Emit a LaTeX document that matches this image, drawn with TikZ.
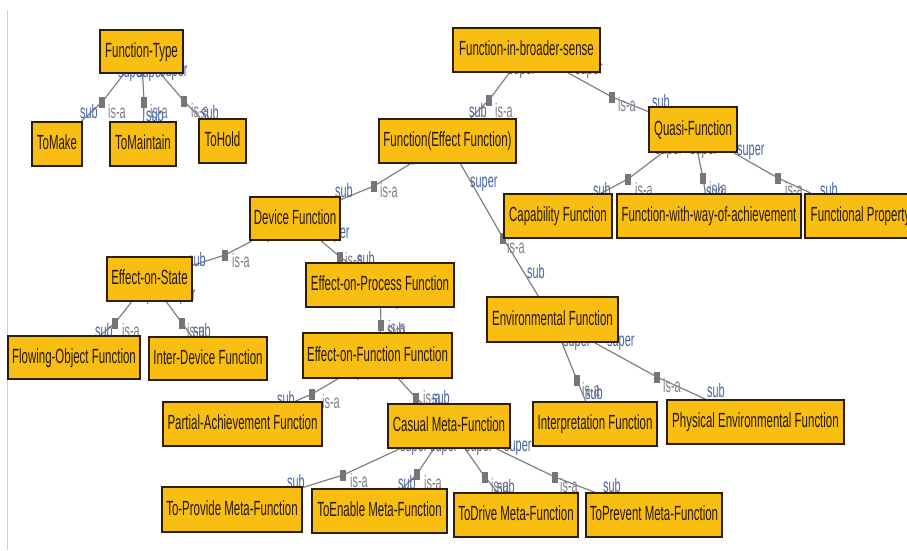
\documentclass[tikz,border=0pt]{standalone}
\usepackage{fontspec}
\setmainfont[FakeStretch=0.56]{Liberation Sans}
\definecolor{boxfill}{RGB}{248,190,18}
\definecolor{boxborder}{RGB}{45,30,12}
\definecolor{boxtext}{RGB}{40,25,5}
\definecolor{edgecol}{RGB}{128,128,128}
\definecolor{sqcol}{RGB}{118,118,118}
\definecolor{subcol}{RGB}{70,100,165}
\definecolor{isacol}{RGB}{125,125,140}
\definecolor{framecol}{RGB}{205,205,205}
\pgfdeclarelayer{edges}
\pgfdeclarelayer{labels}
\pgfsetlayers{edges,labels,main}
\tikzset{
  box/.style={draw=boxborder, line width=1.8pt, fill=boxfill, inner sep=0pt,
    text=boxtext, font=\fontsize{20.5}{23}\selectfont, text height=15pt, text depth=4pt},
  edge/.style={draw=edgecol, line width=1.2pt},
  sqr/.style={fill=sqcol, draw=none, minimum width=6pt, minimum height=11pt, inner sep=0pt},
  lbl/.style={anchor=base west, inner sep=0pt, font=\fontsize{19.5}{21}\selectfont},
  sublbl/.style={lbl, text=subcol},
  isalbl/.style={lbl, text=isacol},
  framestyle/.style={draw=framecol, line width=1pt}
}
\newcommand\bx[6]{\node[box, minimum width=#4, minimum height=#5] (#1) at (#2,#3) {#6};}
\newcommand\isaedge[4]{%
  \begin{pgfonlayer}{edges}
  \coordinate (#2) at #3;
  \draw[edge] (#1) -- (#2) -- (#4);
  \end{pgfonlayer}
  \begin{pgfonlayer}{labels}
  \node[sqr] at (#2) {};
  \end{pgfonlayer}}
\newcommand\sublab[2]{\begin{pgfonlayer}{labels}\node[sublbl] at (#1) {#2};\end{pgfonlayer}}
\newcommand\isalab[1]{\begin{pgfonlayer}{labels}\node[isalbl] at (#1) {is-a};\end{pgfonlayer}}
\begin{document}
\begin{tikzpicture}[x=1pt, y=-1pt]
\useasboundingbox (0,0) rectangle (907,550);
\begin{pgfonlayer}{edges}
\fill[white] (0,0) rectangle (907,550);
\draw[framestyle] (7,10) -- (7,550);
\end{pgfonlayer}
% boxes
\bx{FT}{141.5}{51.5}{83}{43}{Function-Type}
\bx{TM}{57}{144}{50}{44}{ToMake}
\bx{TMa}{143}{144}{66}{44}{ToMaintain}
\bx{TH}{222.5}{141}{47}{44}{ToHold}
\bx{FB}{526.5}{50}{147}{44}{Function-in-broader-sense}
\bx{FE}{447.5}{141}{137}{44}{Function(Effect Function)}
\bx{QF}{693}{129.5}{88}{45}{Quasi-Function}
\bx{CF}{558}{216}{108}{44}{Capability Function}
\bx{FW}{709}{216}{184}{44}{Function-with-way-of-achievement}
\bx{FP}{860.5}{216}{111}{44}{Functional Property}
\bx{DF}{295}{218.5}{90}{43}{Device Function}
\bx{ES}{149.5}{279}{85}{44}{Effect-on-State}
\bx{FO}{74}{357.5}{132}{43}{Flowing-Object Function}
\bx{ID}{208}{358.5}{118}{43}{Inter-Device Function}
\bx{EP}{380}{285}{148}{44}{Effect-on-Process Function}
\bx{EF}{377.5}{355.5}{149}{45}{Effect-on-Function Function}
\bx{EnvF}{552.5}{319.5}{131}{45}{Environmental Function}
\bx{IF}{595}{424}{124}{44}{Interpretation Function}
\bx{PE}{755.5}{422}{177}{44}{Physical Environmental Function}
\bx{PA}{242.5}{424}{159}{44}{Partial-Achievement Function}
\bx{CM}{449}{426}{122}{44}{Casual Meta-Function}
\bx{TP}{232}{509.5}{140}{45}{To-Provide Meta-Function}
\bx{TE}{379.5}{511}{135}{44}{ToEnable Meta-Function}
\bx{TD}{516}{515}{124}{44}{ToDrive Meta-Function}
\bx{TPr}{654}{515}{136}{44}{ToPrevent Meta-Function}
% connectors
\isaedge{FT}{s1}{(102,102)}{TM}
\isaedge{FT}{s2}{(144,102)}{TMa}
\isaedge{FT}{s3}{(184,101)}{TH}
\isaedge{FB}{s4}{(489,100)}{FE}
\isaedge{FB}{s5}{(612,97)}{QF}
\isaedge{QF}{s6}{(628,179)}{CF}
\isaedge{QF}{s7}{(703,178)}{FW}
\isaedge{QF}{s8}{(778,178)}{FP}
\isaedge{FE}{s9}{(374,186)}{DF}
\isaedge{FE}{s10}{(503,238)}{EnvF}
\isaedge{DF}{s11}{(225,255)}{ES}
\isaedge{DF}{s12}{(340,257)}{EP}
\isaedge{ES}{s13}{(115,323)}{FO}
\isaedge{ES}{s14}{(182,323)}{ID}
\isaedge{EP}{s15}{(381,325)}{EF}
\isaedge{EF}{s16}{(312,394)}{PA}
\isaedge{EF}{s17}{(416,398)}{CM}
\isaedge{CM}{s18}{(343,475)}{TP}
\isaedge{CM}{s19}{(417,474)}{TE}
\isaedge{CM}{s20}{(485,477)}{TD}
\isaedge{CM}{s21}{(555,477)}{TPr}
\isaedge{EnvF}{s22}{(577,380)}{IF}
\isaedge{EnvF}{s23}{(657,377)}{PE}
% labels
\sublab{80,118}{sub}\isalab{108,118}\sublab{118,77}{super}
\isalab{150,118}\sublab{146,121}{sub}\sublab{137,77}{super}
\isalab{191,117}\sublab{201,119}{sub}\sublab{160,76}{super}
\sublab{469,117}{sub}\isalab{495,117}\sublab{508,74}{super}
\isalab{618,111}\sublab{652,108}{sub}\sublab{575,74}{super}
\sublab{593,196}{sub}\isalab{635,196}\sublab{655,154}{super}
\sublab{706,197}{sub}\isalab{709,195}\sublab{690,154}{super}
\isalab{785,196}\sublab{820,196}{sub}\sublab{737,155}{super}
\sublab{335,197}{sub}\isalab{380,197}\sublab{400,161}{super}
\sublab{470,187}{super}\isalab{507,253}\sublab{527,278}{sub}
\sublab{188,266}{sub}\isalab{232,267}\sublab{255,238}{super}
\isalab{345,266}\sublab{357,265}{sub}\sublab{322,238}{super}
\sublab{95,337}{sub}\isalab{122,337}\sublab{135,300}{super}
\isalab{187,337}\sublab{193,337}{sub}\sublab{168,300}{super}
\sublab{387,336}{sub}\isalab{388,334}\sublab{384,305}{super}
\sublab{277,405}{sub}\isalab{322,408}\sublab{345,376}{super}
\isalab{423,404}\sublab{432,404}{sub}\sublab{390,376}{super}
\sublab{287,488}{sub}\isalab{350,487}\sublab{400,451}{super}
\sublab{398,489}{sub}\isalab{424,489}\sublab{430,451}{super}
\isalab{491,492}\sublab{497,493}{sub}\sublab{465,451}{super}
\isalab{560,492}\sublab{603,492}{sub}\sublab{504,451}{super}
\isalab{582,396}\sublab{585,399}{sub}\sublab{563,346}{super}
\isalab{663,392}\sublab{707,397}{sub}\sublab{607,346}{super}
\end{tikzpicture}
\end{document}
